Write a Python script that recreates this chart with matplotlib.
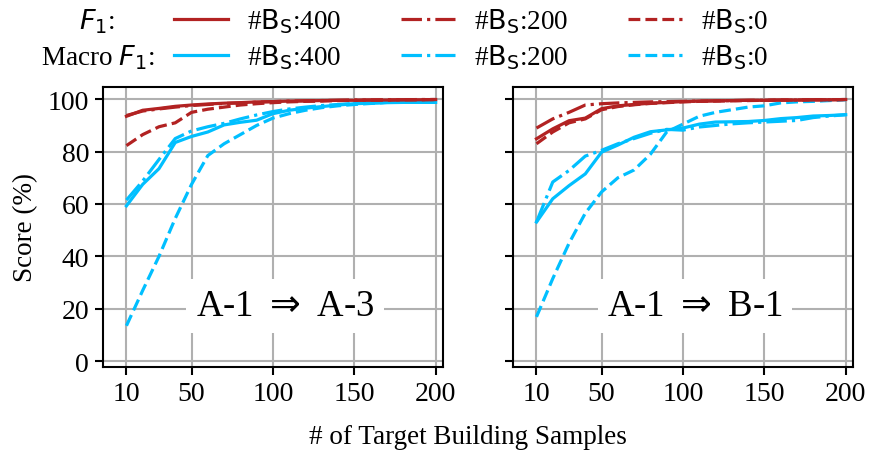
import matplotlib
matplotlib.use("Agg")
import matplotlib.pyplot as plt
from matplotlib.lines import Line2D

plt.rcParams['font.family'] = ['Liberation Serif', 'DejaVu Sans']
plt.rcParams['mathtext.fontset'] = 'dejavusans'

# ---------------- data ----------------
samples = [10, 20, 30, 40, 50, 60, 70, 80, 90, 100,
           110, 120, 130, 140, 150, 160, 170, 180, 190, 200]
x_ticks = [10, 50, 100, 150, 200]
y_ticks = [0, 20, 40, 60, 80, 100]
panel_titles = ["A-1 $\\Rightarrow$ A-3", "A-1 $\\Rightarrow$ B-1"]
series_labels = ["#$\\mathrm{B_S}$:400", "#$\\mathrm{B_S}$:200", "#$\\mathrm{B_S}$:0"]

# Panel 1: A-1 => A-3
a3_f1_400 = [93.5, 95.8, 96.5, 97.3, 97.8, 98.2, 98.5, 98.7, 99.0, 99.1,
             99.3, 99.4, 99.5, 99.6, 99.6, 99.7, 99.7, 99.8, 99.8, 99.9]
a3_f1_200 = [93.8, 95.5, 96.3, 97.0, 97.6, 98.0, 98.4, 98.6, 98.9, 99.1,
             99.3, 99.4, 99.5, 99.6, 99.7, 99.7, 99.8, 99.8, 99.9, 99.9]
a3_f1_0 = [82.3, 86.5, 89.5, 91.0, 95.0, 96.2, 97.0, 97.8, 98.3, 98.7,
           99.0, 99.2, 99.3, 99.5, 99.6, 99.7, 99.7, 99.8, 99.8, 99.9]
a3_mf1_400 = [59.3, 67.5, 73.5, 83.5, 85.8, 87.5, 90.2, 91.2, 92.0, 94.5,
              95.8, 96.6, 97.2, 97.8, 98.3, 98.5, 98.7, 98.8, 98.8, 98.8]
a3_mf1_200 = [61.5, 68.8, 77.0, 85.0, 87.9, 89.5, 90.8, 92.5, 94.0, 95.3,
              96.3, 97.0, 97.6, 98.0, 98.4, 98.6, 98.8, 98.9, 99.0, 99.0]
a3_mf1_0 = [13.5, 27.0, 40.0, 54.5, 67.5, 78.5, 83.0, 86.5, 90.0, 92.8,
            94.5, 95.8, 96.8, 97.5, 98.0, 98.4, 98.8, 99.1, 99.3, 99.5]

# Panel 2: A-1 => B-1
b1_f1_400 = [84.9, 88.7, 91.8, 92.8, 96.4, 97.5, 98.0, 98.5, 98.8, 99.1,
             99.3, 99.4, 99.5, 99.6, 99.6, 99.7, 99.7, 99.8, 99.8, 99.9]
b1_f1_200 = [89.0, 92.5, 95.0, 97.8, 98.3, 98.6, 98.8, 99.0, 99.1, 99.2,
             99.3, 99.4, 99.5, 99.6, 99.6, 99.7, 99.7, 99.8, 99.8, 99.9]
b1_f1_0 = [83.0, 87.5, 91.0, 92.5, 96.0, 97.2, 97.9, 98.4, 98.7, 99.0,
           99.2, 99.3, 99.4, 99.5, 99.6, 99.7, 99.7, 99.8, 99.8, 99.9]
b1_mf1_400 = [53.1, 62.0, 67.0, 71.5, 79.8, 82.5, 85.5, 87.6, 88.3, 89.0,
              90.5, 91.3, 91.4, 91.5, 91.9, 92.6, 93.0, 93.6, 93.8, 94.1]
b1_mf1_200 = [53.1, 68.4, 72.8, 78.3, 80.5, 83.0, 85.0, 87.0, 88.5, 88.2,
              89.4, 90.0, 90.6, 91.0, 91.3, 91.6, 91.9, 93.0, 93.6, 94.1]
b1_mf1_0 = [16.9, 31.5, 45.0, 56.5, 64.6, 70.0, 73.0, 79.0, 87.5, 90.5,
            93.5, 95.0, 96.0, 97.0, 97.5, 98.6, 99.0, 99.2, 99.5, 99.8]

panels = [
    (a3_f1_400, a3_f1_200, a3_f1_0, a3_mf1_400, a3_mf1_200, a3_mf1_0),
    (b1_f1_400, b1_f1_200, b1_f1_0, b1_mf1_400, b1_mf1_200, b1_mf1_0),
]

RED = '#B22222'
BLUE = '#00BFFF'
styles = ['-', '-.', '--']
LW = 2.3
FS = 20

fig, axes = plt.subplots(1, 2, figsize=(8.7, 4.52), dpi=100, sharey=True)
fig.subplots_adjust(left=0.1184, right=0.9805, top=0.806, bottom=0.185, wspace=0.206)

for ax, data, title in zip(axes, panels, panel_titles):
    f1s, mf1s = data[:3], data[3:]
    for vals, ls in zip(mf1s, styles):
        ax.plot(samples, vals, color=BLUE, ls=ls, lw=LW)
    for vals, ls in zip(f1s, styles):
        ax.plot(samples, vals, color=RED, ls=ls, lw=LW)
    ax.set_xlim(-4.4, 204.5)
    ax.set_ylim(-2.4, 104.8)
    ax.set_xticks(x_ticks)
    ax.set_yticks(y_ticks)
    ax.grid(True, color='#b0b0b0', lw=1.5)
    ax.set_axisbelow(True)
    for s in ax.spines.values():
        s.set_linewidth(1.5)
    ax.tick_params(direction='out', length=6, width=1.5, labelsize=FS, pad=4)
    ax.text(0.535, 0.218, title, transform=ax.transAxes, ha='center', va='center',
            fontsize=26.5, bbox=dict(facecolor='white', edgecolor='none', pad=7))

fig.text(0.03, 0.496, 'Score (%)', rotation=90, ha='center', va='center', fontsize=19.5)
fig.text(0.538, 0.033, '# of Target Building Samples', ha='center', va='center', fontsize=19.5)

handles = []
for ls in styles:
    handles.append(Line2D([], [], color=RED, ls=ls, lw=LW))
    handles.append(Line2D([], [], color=BLUE, ls=ls, lw=LW))
labels = []
for lab in series_labels:
    labels += [lab, lab]

fig.legend(handles, labels, ncol=3, loc='upper left', bbox_to_anchor=(0.172, 1.038),
           frameon=False, fontsize=19.5, handlelength=2.0, handletextpad=0.7,
           columnspacing=2.2, labelspacing=0.3)
fig.text(0.1115, 0.951, '$F_1$:', ha='center', va='center', fontsize=19.5)
fig.text(0.1125, 0.872, 'Macro $F_1$:', ha='center', va='center', fontsize=19.5)

fig.savefig('out.png', dpi=100)
